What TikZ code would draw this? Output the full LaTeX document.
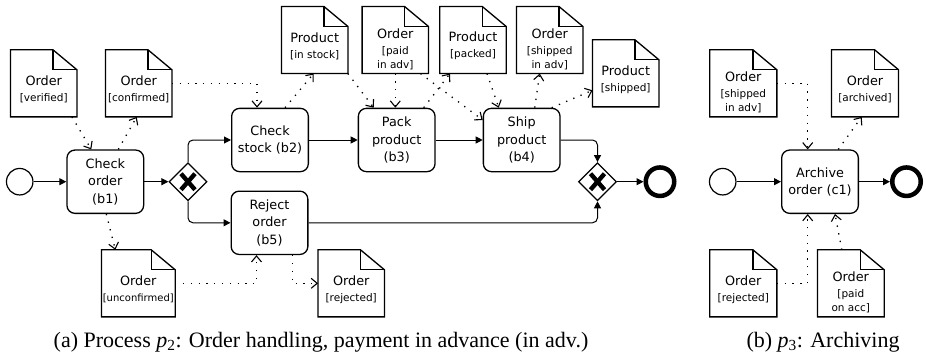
\documentclass[tikz,border=0pt]{standalone}
\usepackage{fontspec}
\setmainfont{Liberation Serif}
\newfontfamily\bpmnfont{DejaVu Sans}
\usetikzlibrary{arrows.meta,shapes.geometric}

\tikzset{
  task/.style={draw, line width=1.3pt, rounded corners=8pt, minimum width=76.7pt,
    minimum height=63.3pt, inner sep=0pt, align=center,
    font=\bpmnfont\fontsize{12.8}{17.3}\selectfont},
  startev/.style={draw, circle, line width=1.2pt, minimum size=26.5pt, inner sep=0pt},
  endev/.style={draw, circle, line width=4.5pt, minimum size=28.5pt, inner sep=0pt},
  xorgw/.style={draw, diamond, aspect=1, line width=1.2pt, minimum width=38pt,
    minimum height=38pt, inner sep=0pt},
  gwcross/.style={line width=4.4pt},
  docbox/.style={minimum height=66.7pt, inner sep=0pt},
  docline/.style={line width=1.3pt, line join=miter},
  doctext/.style={align=center, inner sep=0pt,
    font=\bpmnfont\fontsize{10.5}{14.5}\selectfont},
  seqflow/.style={line width=1pt, -{Triangle[length=7pt,width=7pt]}, rounded corners=5pt},
  assoc/.style={line width=1.3pt, dash pattern=on 1.3pt off 6.5pt,
    -{Straight Barb[length=6pt,width=10pt,line width=1.1pt]}},
  caption/.style={anchor=base, inner sep=0pt, font=\fontsize{22}{26}\selectfont},
}

% data object title line
\newcommand\doctitle[1]{{\fontsize{12.8}{14.5}\selectfont #1}}
% data object: name, centre x, centre y, width, text drop, text
\newcommand\dataobj[6]{%
  \node[docbox, minimum width=#4pt] (#1) at (#2,#3) {};
  \node[doctext] (#1-txt) at ([yshift=-#5pt]#1.center) {#6};
  \draw[docline] (#1.south west) -- (#1.north west) -- ([xshift=-24pt]#1.north east)
    -- ([yshift=-20pt]#1.north east) -- (#1.south east) -- cycle;
  \draw[docline] ([xshift=-24pt]#1.north east) |- ([yshift=-20pt]#1.north east);
}

\begin{document}
\begin{tikzpicture}[x=1pt,y=-1pt]
\useasboundingbox (0,0) rectangle (926,359);

% ---------- process p2 ----------
\node[startev] (s1) at (19.7,181.7) {};
\node[task] (b1) at (105.3,181.7) {Check\\order\\(b1)};
\node[xorgw] (g1) at (188,181.7) {};
\node[task] (b2) at (270,140) {Check\\stock (b2)};
\node[task] (b3) at (396.7,140) {Pack\\product\\(b3)};
\node[task] (b4) at (521.7,140) {Ship\\product\\(b4)};
\node[task] (b5) at (269.5,222.8) {Reject\\order\\(b5)};
\node[xorgw] (g2) at (597.5,181.7) {};
\node[endev] (e1) at (660,181.7) {};

\foreach \g in {g1,g2} {
  \draw[gwcross] ([shift={(-7,-8)}]\g.center) -- ([shift={(7,8)}]\g.center);
  \draw[gwcross] ([shift={(-7,8)}]\g.center) -- ([shift={(7,-8)}]\g.center);
}

\draw[seqflow] (s1) -- (b1);
\draw[seqflow] (b1) -- (g1);
\draw[seqflow] (g1.north) |- (b2.west);
\draw[seqflow] (g1.south) |- (b5.west);
\draw[seqflow] (b2) -- (b3);
\draw[seqflow] (b3) -- (b4);
\draw[seqflow] (b4.east) -| (g2.north);
\draw[seqflow] (b5.east) -| (g2.south);
\draw[seqflow] (g2) -- (e1);

\dataobj{dverified}{43.7}{83.3}{66}{6.2}{\doctitle{Order}\\[1.5pt]{}[verified]}
\dataobj{dconfirmed}{138.7}{83.3}{66}{6.2}{\doctitle{Order}\\[1.5pt]{}[confirmed]}
\dataobj{dinstock}{314.7}{40}{66}{6.2}{\doctitle{Product}\\[1.5pt]{}[in stock]}
\dataobj{dpaidadv}{395.3}{40}{66}{9.1}{\doctitle{Order}\\[1.5pt]{}[paid\\in adv]}
\dataobj{dpacked}{473}{40}{66}{6.2}{\doctitle{Product}\\[1.5pt]{}[packed]}
\dataobj{dshippedadv}{549.7}{40}{66}{9.1}{\doctitle{Order}\\[1.5pt]{}[shipped\\in adv]}
\dataobj{dshipped}{625.7}{73.3}{66}{6.2}{\doctitle{Product}\\[1.5pt]{}[shipped]}
\dataobj{dunconf}{138.3}{283.3}{73.3}{6.2}{\doctitle{Order}\\[1.5pt]{}{\fontsize{10}{14.5}\selectfont[unconfirmed]}}
\dataobj{drejected}{351.2}{283.3}{66}{6.2}{\doctitle{Order}\\[1.5pt]{}[rejected]}

\draw[assoc] ([xshift=-5pt]dverified.south east) -- ([xshift=-14pt]b1.north);
\draw[assoc] ([xshift=13pt]b1.north) -- ([xshift=-2pt]dconfirmed.south);
\draw[assoc] (dconfirmed.east) -| ([xshift=-13pt]b2.north);
\draw[assoc] ([xshift=15pt]b2.north) -- ([xshift=-1pt]dinstock.south);
\draw[assoc] (dinstock.south east) -- ([xshift=-23pt]b3.north);
\draw[assoc] ([xshift=-1.4pt]b3.north |- dpaidadv.south) -- ([xshift=-1.4pt]b3.north);
\draw[assoc] ([xshift=27pt]b3.north) -- ([xshift=-23pt]dpacked.south);
\draw[assoc] ([xshift=-8pt]dpaidadv.south east) -- ([yshift=20pt]b4.west);
\draw[assoc] ([xshift=14pt]dpacked.south) -- ([xshift=-23pt]b4.north);
\draw[assoc] ([xshift=13pt]b4.north) -- ([xshift=-10pt]dshippedadv.south);
\draw[assoc] ([xshift=30pt]b4.north) -- ([yshift=-17pt]dshipped.west);
\draw[assoc] ([xshift=1pt]b1.south) -- ([xshift=-23pt]dunconf.north);
\draw[assoc] (dunconf.east) -| ([xshift=-13pt]b5.south);
\draw[assoc] ([xshift=23pt]b5.south) |- (drejected.west);

% ---------- process p3 ----------
\node[startev] (s2) at (722.7,181.7) {};
\node[task] (c1) at (820,181.7) {Archive\\order (c1)};
\node[endev] (e2) at (906.5,181.7) {};
\draw[seqflow] (s2) -- (c1);
\draw[seqflow] (c1) -- (e2);

\dataobj{dshipadvb}{743.3}{83.3}{66.7}{9.1}{\doctitle{Order}\\[1.5pt]{}[shipped\\in adv]}
\dataobj{darchived}{865}{83.3}{66.7}{6.2}{\doctitle{Order}\\[1.5pt]{}[archived]}
\dataobj{drejectedb}{743.3}{283.3}{66.7}{6.2}{\doctitle{Order}\\[1.5pt]{}[rejected]}
\dataobj{dpaidacc}{850.8}{283.3}{66.3}{9.1}{\doctitle{Order}\\[1.5pt]{}[paid\\on acc]}

\draw[assoc] (dshipadvb.east) -| ([xshift=-12.3pt]c1.north);
\draw[assoc] ([xshift=18.3pt]c1.north) -- ([xshift=-3.3pt]darchived.south);
\draw[assoc] (drejectedb.east) -| ([xshift=-12.3pt]c1.south);
\draw[assoc] ([xshift=-9pt]dpaidacc.north) -- ([xshift=15pt]c1.south);

% ---------- captions ----------
\node[caption] (capa) at (321,347) {(a) Process \textit{p}\textsubscript{2}: Order handling, payment in advance (in adv.)};
\node[caption] (capb) at (823,347) {(b) \textit{p}\textsubscript{3}: Archiving};
\end{tikzpicture}
\end{document}
